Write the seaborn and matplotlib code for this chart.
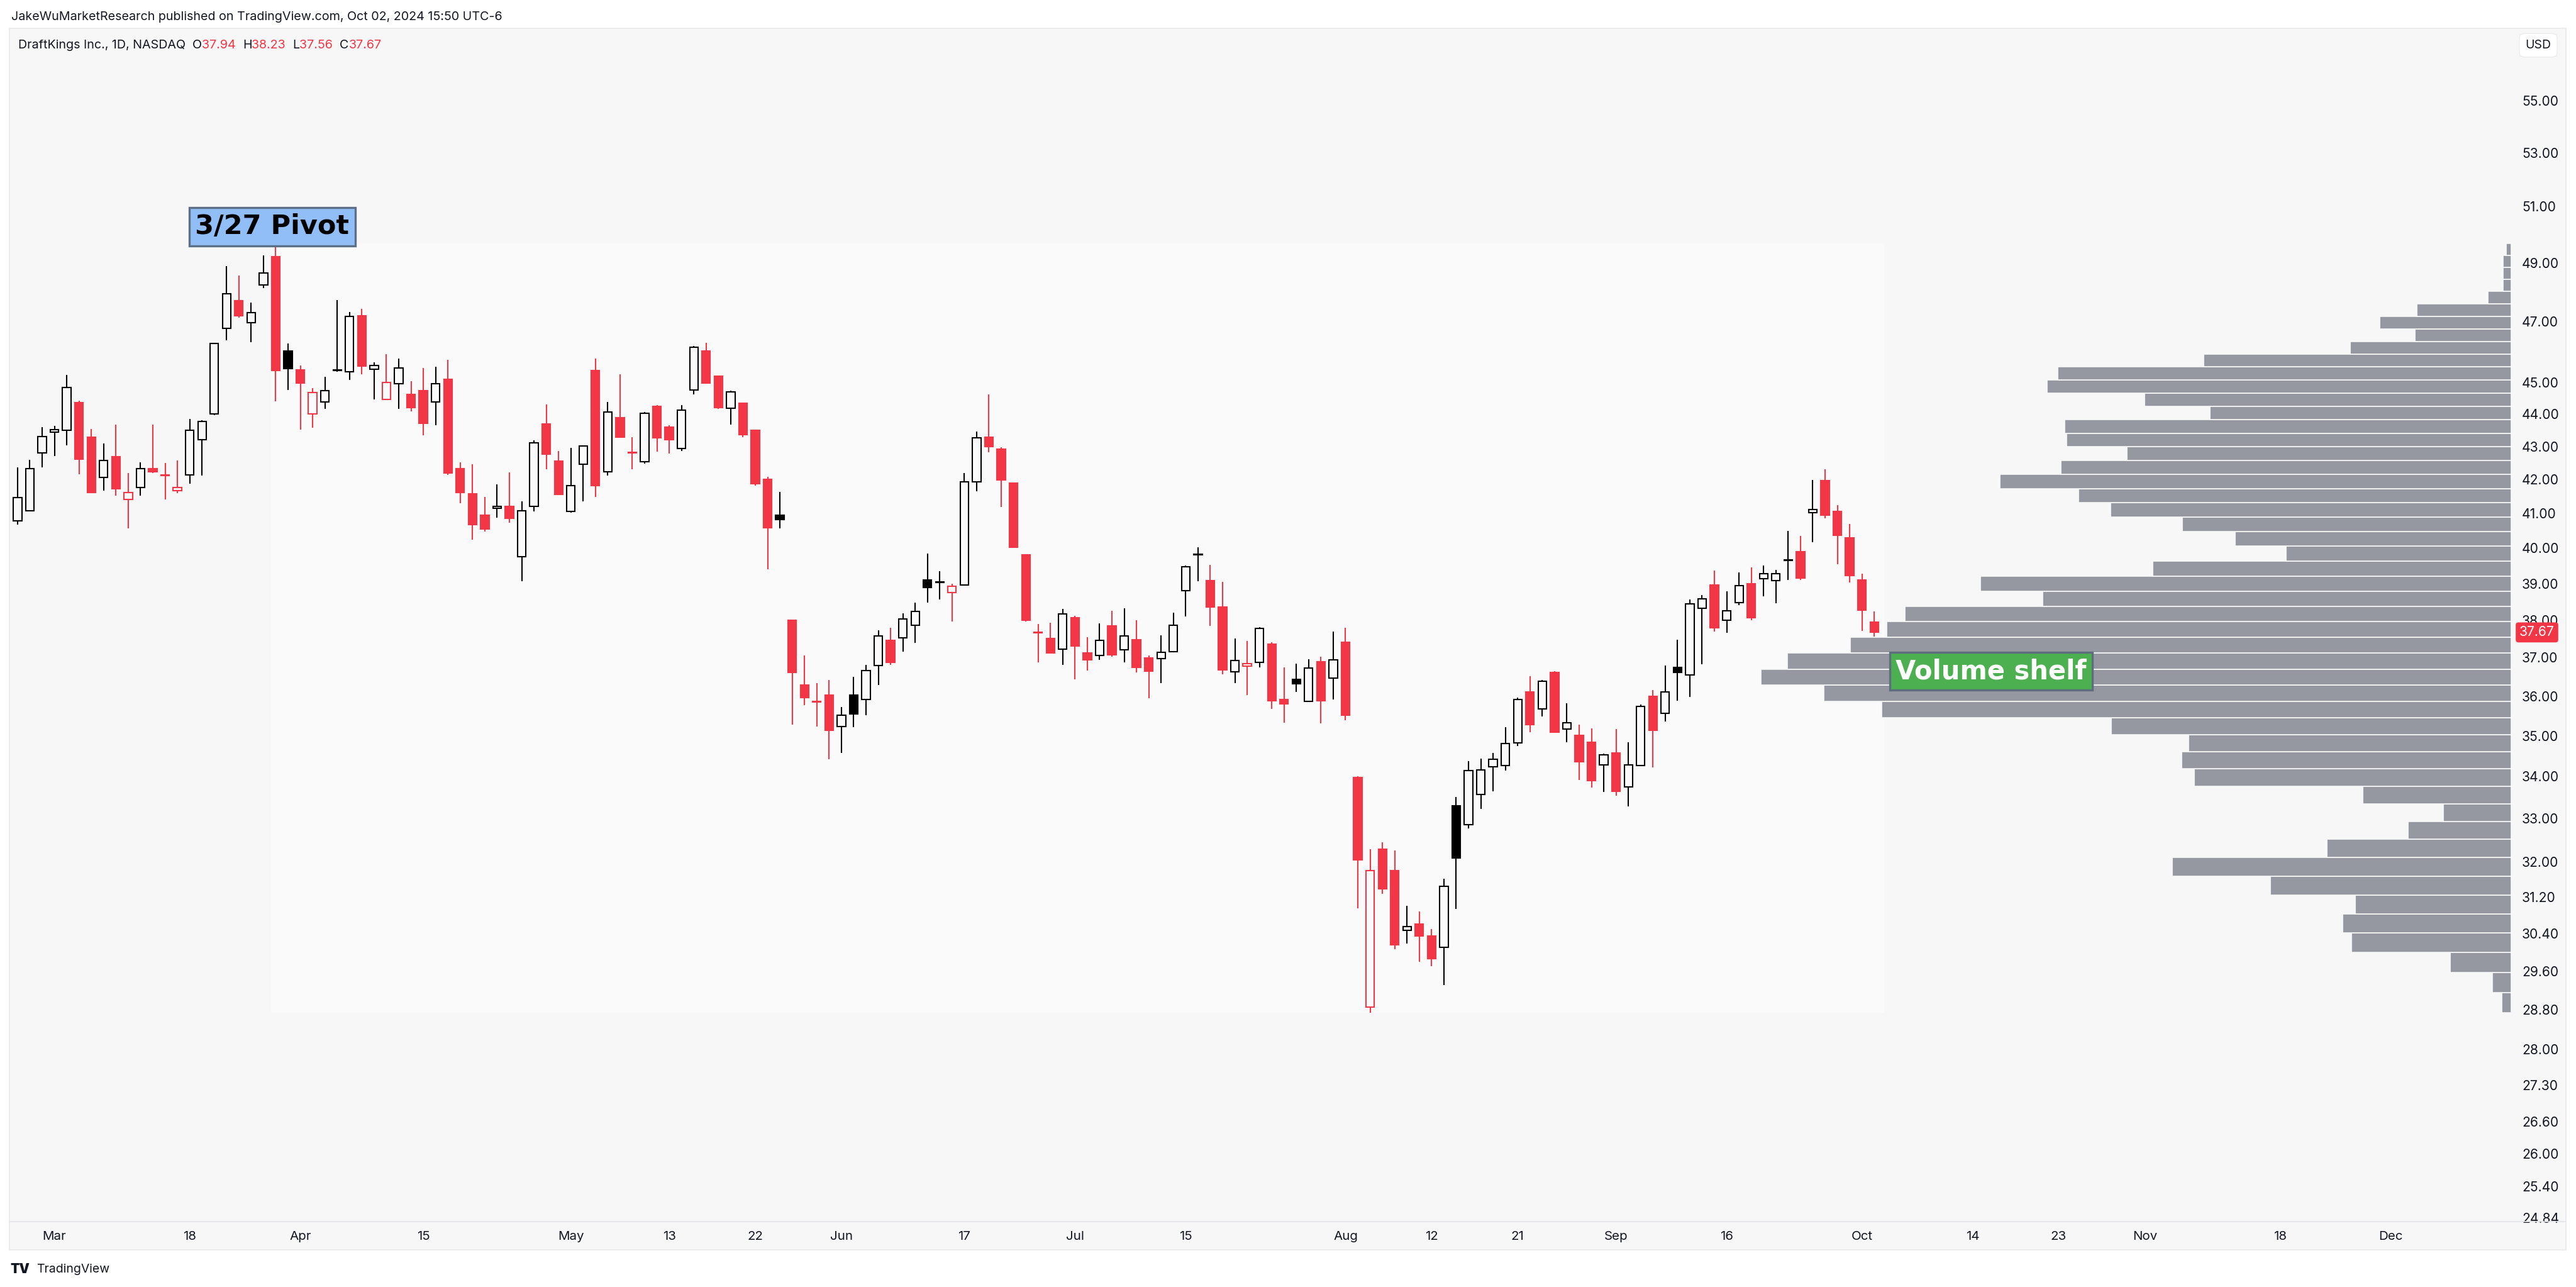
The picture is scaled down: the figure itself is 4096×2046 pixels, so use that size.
import numpy as np
import pandas as pd
import matplotlib
matplotlib.use("Agg")
import matplotlib.pyplot as plt
import matplotlib.transforms as mtransforms
from matplotlib.lines import Line2D
from matplotlib.patches import Rectangle
from matplotlib.ticker import NullLocator
import seaborn as sns

# ── Data: DKNG daily candles, 2024-02-27 .. 2024-10-02 ──
opens = [40.79, 41.08, 42.80, 43.43, 43.49, 44.36, 43.28, 42.06, 42.69, 41.41,
         41.77, 42.32, 42.13, 41.66, 42.14, 43.21, 44.00, 46.76, 47.69, 46.95,
         48.23, 49.22, 46.02, 45.40, 44.00, 44.39, 45.38, 45.34, 47.19, 45.42,
         44.47, 44.96, 44.63, 44.75, 44.39, 45.11, 42.33, 41.57, 40.94, 41.15,
         41.21, 39.76, 41.20, 43.70, 42.56, 41.06, 42.46, 45.39, 42.23, 43.89,
         42.83, 42.54, 44.24, 43.59, 42.94, 44.76, 46.02, 45.20, 44.18, 44.34,
         43.49, 42.00, 40.94, 38.00, 36.28, 35.87, 36.03, 35.23, 36.02, 35.91,
         36.80, 37.46, 37.53, 37.86, 39.11, 39.03, 38.76, 38.96, 41.93, 43.29,
         42.91, 41.90, 39.81, 37.68, 37.51, 37.22, 38.07, 37.12, 37.05, 37.85,
         37.20, 37.47, 36.99, 36.97, 37.16, 38.81, 39.80, 39.09, 38.36, 36.63,
         36.77, 36.88, 37.36, 35.92, 36.43, 35.86, 36.89, 36.46, 37.41, 33.97,
         28.86, 32.29, 31.80, 30.47, 30.61, 30.35, 30.11, 33.30, 32.85, 33.56,
         34.24, 34.26, 34.82, 36.11, 35.68, 36.62, 35.17, 35.01, 34.83, 34.28,
         34.58, 33.75, 34.26, 36.00, 35.56, 36.75, 36.55, 38.32, 38.96, 37.99,
         38.47, 39.00, 39.14, 39.09, 39.65, 39.90, 41.02, 41.97, 41.05, 40.29,
         39.10, 37.94]
highs = [42.37, 42.59, 43.59, 43.64, 45.24, 44.43, 43.53, 43.10, 43.68, 42.19,
         42.51, 43.68, 42.50, 42.57, 43.84, 43.82, 46.29, 48.89, 48.57, 47.63,
         49.27, 49.69, 46.26, 45.55, 44.82, 45.19, 47.71, 47.32, 47.42, 45.65,
         45.91, 45.78, 45.04, 45.47, 45.50, 45.73, 42.51, 42.45, 41.49, 41.85,
         42.22, 41.35, 43.18, 44.31, 42.86, 42.96, 43.04, 45.78, 44.39, 45.27,
         43.29, 44.07, 44.29, 43.66, 44.28, 46.18, 46.29, 45.22, 44.74, 44.35,
         43.50, 42.08, 41.64, 38.01, 37.06, 36.34, 36.41, 35.72, 36.50, 36.81,
         37.73, 37.80, 38.19, 38.47, 39.84, 39.34, 38.99, 42.20, 43.46, 44.63,
         42.98, 41.92, 39.82, 37.89, 37.93, 38.30, 38.12, 37.54, 37.91, 38.25,
         38.33, 38.00, 37.05, 37.60, 38.21, 39.51, 40.02, 39.52, 39.05, 37.50,
         37.44, 37.81, 37.40, 36.75, 36.84, 36.95, 37.02, 37.70, 37.80, 34.00,
         32.29, 32.44, 32.26, 31.01, 30.89, 30.50, 31.61, 33.51, 34.38, 34.44,
         34.57, 35.21, 35.96, 36.52, 36.42, 36.65, 35.82, 35.28, 35.19, 34.56,
         35.16, 34.83, 35.78, 36.15, 36.80, 37.48, 38.56, 38.69, 39.37, 38.78,
         39.32, 39.46, 39.50, 39.39, 40.50, 40.35, 41.98, 42.31, 41.25, 40.70,
         39.27, 38.23]
lows = [40.68, 41.06, 42.36, 42.71, 43.03, 42.16, 41.59, 41.66, 41.52, 40.57,
        41.52, 42.20, 41.40, 41.59, 41.87, 42.12, 43.97, 46.38, 47.13, 46.32,
        48.12, 44.41, 44.76, 43.51, 43.57, 44.16, 45.35, 45.09, 45.26, 44.47,
        44.45, 44.16, 44.08, 43.34, 43.65, 42.14, 41.30, 40.23, 40.47, 40.88,
        40.72, 39.06, 41.05, 42.31, 41.54, 41.02, 41.36, 41.49, 42.12, 43.27,
        42.31, 42.47, 42.84, 42.78, 42.86, 44.63, 44.97, 44.16, 43.68, 43.29,
        41.81, 39.40, 40.57, 35.27, 35.77, 35.23, 34.42, 34.58, 35.21, 35.51,
        36.28, 36.81, 37.16, 37.39, 38.47, 38.56, 37.96, 38.94, 41.65, 42.83,
        41.18, 40.00, 37.97, 36.88, 37.10, 36.81, 36.44, 36.66, 36.94, 37.02,
        36.87, 36.62, 35.94, 36.33, 37.15, 38.10, 39.06, 37.84, 36.56, 36.33,
        36.03, 36.75, 35.68, 35.32, 36.10, 35.85, 35.31, 35.92, 35.39, 30.96,
        28.74, 31.28, 30.07, 30.19, 29.80, 29.70, 29.31, 30.94, 32.77, 33.22,
        33.64, 34.14, 34.74, 35.09, 35.49, 35.08, 34.83, 33.91, 33.73, 33.63,
        33.54, 33.29, 34.25, 34.22, 35.36, 35.89, 35.98, 36.83, 37.69, 37.66,
        38.40, 38.00, 38.65, 38.46, 39.10, 39.10, 40.17, 40.85, 39.55, 39.04,
        37.71, 37.56]
closes = [41.46, 42.32, 43.30, 43.51, 44.85, 42.61, 41.62, 42.57, 41.73, 41.61,
          42.32, 42.23, 42.11, 41.76, 43.50, 43.77, 46.26, 47.93, 47.19, 47.30,
          48.65, 45.38, 45.44, 44.98, 44.69, 44.74, 45.40, 47.17, 45.52, 45.56,
          45.00, 45.46, 44.21, 43.72, 44.96, 42.20, 41.62, 40.68, 40.55, 41.20,
          40.85, 41.08, 43.11, 42.76, 41.55, 41.81, 43.01, 41.81, 44.06, 43.29,
          42.81, 44.03, 43.27, 43.21, 44.12, 46.14, 44.99, 44.20, 44.71, 43.37,
          41.88, 40.59, 40.81, 36.62, 35.97, 35.85, 35.13, 35.52, 35.54, 36.66,
          37.57, 36.88, 38.04, 38.24, 38.89, 39.05, 38.92, 41.93, 43.26, 43.00,
          41.98, 40.02, 38.00, 37.66, 37.12, 38.17, 37.31, 36.94, 37.45, 37.08,
          37.58, 36.75, 36.65, 37.14, 37.86, 39.48, 39.82, 38.36, 36.67, 36.92,
          36.84, 37.78, 35.88, 35.80, 36.32, 36.73, 35.89, 36.94, 35.51, 32.04,
          31.80, 31.39, 30.16, 30.55, 30.35, 29.87, 31.44, 32.08, 34.14, 34.16,
          34.42, 34.81, 35.92, 35.27, 36.38, 35.09, 35.33, 34.36, 33.90, 34.52,
          33.64, 34.28, 35.74, 35.13, 36.10, 36.62, 38.44, 38.58, 37.80, 38.25,
          38.94, 38.06, 39.27, 39.28, 39.67, 39.16, 41.11, 40.95, 40.36, 39.22,
          38.27, 37.67]

first_day = "2024-02-27"
holidays = ["2024-03-29", "2024-05-27", "2024-06-19", "2024-07-04",
            "2024-09-02", "2024-11-28", "2024-12-25"]

tick_dates = ["2024-03-01", "2024-03-18", "2024-04-01", "2024-04-15", "2024-05-01",
              "2024-05-13", "2024-05-22", "2024-06-03", "2024-06-17", "2024-07-01",
              "2024-07-15", "2024-08-01", "2024-08-12", "2024-08-21", "2024-09-03",
              "2024-09-16", "2024-10-01", "2024-10-14", "2024-10-23", "2024-11-01",
              "2024-11-18", "2024-12-02"]
tick_labels = ["Mar", "18", "Apr", "15", "May", "13", "22", "Jun", "17", "Jul",
               "15", "Aug", "12", "21", "Sep", "16", "Oct", "14", "23", "Nov",
               "18", "Dec"]

price_ticks = [55, 53, 51, 49, 47, 45, 44, 43, 42, 41, 40, 39, 38, 37, 36, 35, 34,
               33, 32, 31.2, 30.4, 29.6, 28.8, 28, 27.3, 26.6, 26, 25.4, 24.84]

# fixed range volume profile, 3/27 .. 10/02, rows listed top -> bottom
vp_start, vp_end = "2024-03-27", "2024-10-02"
vp_low, vp_high = 28.74, 49.69
vp_volume = [9, 15, 15, 15, 43, 174, 242, 177, 297, 568,
             837, 857, 677, 556, 824, 821, 709, 831, 943, 799,
             739, 607, 509, 415, 662, 979, 865, 1119, 1153, 1220,
             1336, 1385, 1269, 1162, 738, 595, 608, 585, 274, 125,
             190, 340, 626, 444, 288, 311, 295, 113, 35, 17]

last_price = 37.67

# ── Style ──
RED = "#f23645"
INK = "#131722"
BG = "#f7f7f7"
VP_GRAY = "#9598a1"

sns.set_theme(style="white")
plt.rcParams["font.family"] = ["Inter", "DejaVu Sans"]

# trading-day axis
days = pd.bdate_range(first_day, "2024-12-31")
days = days[~days.isin(pd.to_datetime(holidays))]
day_pos = {d: i for i, d in enumerate(days)}

o, h, l, c = (np.array(v, dtype=float) for v in (opens, highs, lows, closes))
x = np.arange(len(o))
prev_c = np.r_[-np.inf, c[:-1]]
colors = np.where(c < prev_c, RED, "black")
filled = c < o
body_lo = np.minimum(o, c)
body_hi = np.maximum(o, c)

fig = plt.figure(figsize=(20.48, 10.23), dpi=200, facecolor="white")
W, H = 4096, 2046

# chart panel (pane + axes strip)
fig.add_artist(Rectangle((15 / W, 1 - 1987 / H), 4065 / W, 1942 / H,
                         transform=fig.transFigure, facecolor=BG,
                         edgecolor="#e9e9ea", linewidth=0.6, zorder=0))
fig.add_artist(Line2D([15 / W, 4080 / W], [1 - 1942 / H] * 2,
                      transform=fig.transFigure, color="#e3e4e8", lw=0.6))

ax = fig.add_axes([15 / W, 1 - 1942 / H, 3978 / W, 1897 / H])
ax.set_facecolor("none")
ax.set_yscale("log")
ax.set_ylim(24.77, 57.9)
ax.set_xlim(-0.66, 202.8)
for s in ax.spines.values():
    s.set_visible(False)

# faint range box of the volume profile
i0, i1 = day_pos[pd.Timestamp(vp_start)], day_pos[pd.Timestamp(vp_end)]
ax.add_patch(Rectangle((i0 - 0.4, vp_low), i1 - i0 + 1.2, vp_high - vp_low,
                       facecolor="#fafafa", edgecolor="none", zorder=0))

# candles (hollow style: body filled when close < open, red when close < prev close)
ax.vlines(x, body_hi, h, colors=colors, linewidth=0.75, zorder=2)
ax.vlines(x, l, body_lo, colors=colors, linewidth=0.75, zorder=2)
ax.bar(x, body_hi - body_lo, bottom=body_lo, width=0.68,
       color=np.where(filled, colors, "none"), edgecolor=colors,
       linewidth=0.75, zorder=3)

# axes ticks
ax.yaxis.tick_right()
ax.set_yticks(price_ticks)
ax.set_yticklabels([f"{v:.2f}" for v in price_ticks])
ax.yaxis.set_minor_locator(NullLocator())
ax.set_xticks([day_pos[pd.Timestamp(d)] for d in tick_dates])
ax.set_xticklabels(tick_labels)
ax.tick_params(axis="y", length=0, pad=6.1, labelsize=7.6, labelcolor=INK)
ax.tick_params(axis="x", length=0, pad=5.4, labelsize=7.4, labelcolor=INK)
ax.grid(False)

# volume profile on a twin axis sharing the log price scale
axv = ax.twiny()
axv.set_axis_off()
edges = np.linspace(vp_low, vp_high, len(vp_volume) + 1)
vol = np.array(vp_volume[::-1], dtype=float)
axv.barh(edges[:-1], vol, height=np.diff(edges), align="edge",
         color=VP_GRAY, edgecolor=BG, linewidth=0.6)
axv.set_xlim(vol.max() / 0.30, 0)

# annotations
axv.text(20.7, 50.28, "3/27 Pivot", transform=ax.transData, ha="center",
         va="center", fontsize=15.5, fontweight="bold", color="black",
         family="DejaVu Sans",
         bbox=dict(boxstyle="square,pad=0.22", fc="#91bef6", ec="#5c6f86", lw=1.2),
         zorder=10)
axv.text(160.5, 36.64, "Volume shelf", transform=ax.transData, ha="center",
         va="center", fontsize=15, fontweight="bold", color="white",
         family="DejaVu Sans",
         bbox=dict(boxstyle="square,pad=0.22", fc="#4caf50", ec="#5d6d7e", lw=1.2),
         zorder=10)

# last price tag on the price scale
tr = mtransforms.blended_transform_factory(axv.transAxes, ax.transData)
axv.text(1.0103, last_price, f"{last_price:.2f}", transform=tr, ha="center",
         va="center", fontsize=7.6, color="white", clip_on=False,
         bbox=dict(boxstyle="round,pad=0.28,rounding_size=0.2", fc=RED, ec="none"),
         zorder=10)

# currency box
fig.text(4036 / W, 1 - 72 / H, "USD", ha="center", va="center", fontsize=7,
         color=INK,
         bbox=dict(boxstyle="round,pad=0.5,rounding_size=0.4", fc="white",
                   ec="#ececec", lw=0.5))

# header lines
fig.text(18 / W, 1 - 27 / H,
         "JakeWuMarketResearch published on TradingView.com, Oct 02, 2024 15:50 UTC-6",
         ha="left", va="center", fontsize=7.1, color=INK)

renderer = fig.canvas.get_renderer()
parts = [("DraftKings Inc., 1D, NASDAQ  ", INK), ("O", INK), ("37.94  ", RED),
         ("H", INK), ("38.23  ", RED), ("L", INK), ("37.56  ", RED),
         ("C", INK), ("37.67", RED)]
xp = 29 / W
for txt, col in parts:
    t = fig.text(xp, 1 - 72 / H, txt, ha="left", va="center", fontsize=7.1, color=col)
    bb = t.get_window_extent(renderer=renderer)
    xp += bb.width / fig.bbox.width

# footer logo
fig.text(16 / W, 1 - 2018 / H, "TV", ha="left", va="center", fontsize=7.5,
         fontweight="black", color=INK)
fig.text(58 / W, 1 - 2018 / H, "TradingView", ha="left", va="center",
         fontsize=7, color=INK)

fig.savefig("out.png", dpi=200, facecolor="white")
